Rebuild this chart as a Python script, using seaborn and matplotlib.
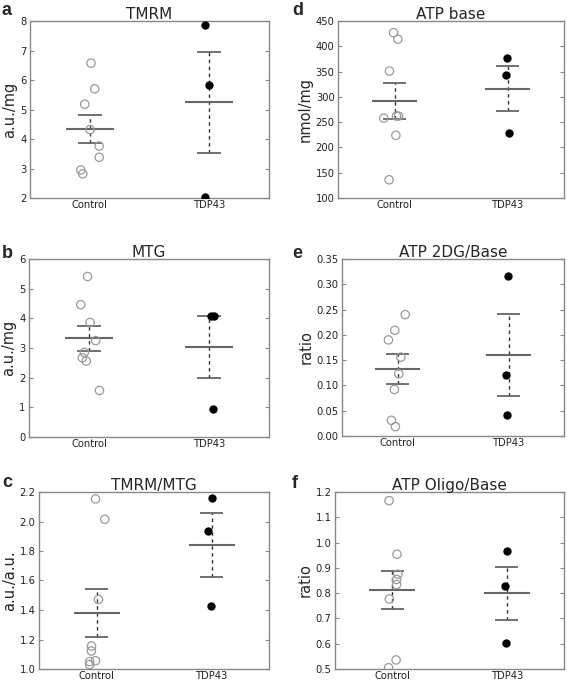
import numpy as np
import pandas as pd
import matplotlib
matplotlib.use("Agg")
import matplotlib.pyplot as plt
import seaborn as sns

# ============================
# Data
# ============================

GROUPS = ["Control", "TDP43"]

tmrm_ctrl = [6.57, 5.70, 5.18, 4.32, 3.76, 3.38, 2.95, 2.82]
tmrm_tdp = [7.88, 5.83, 2.02]

mtg_ctrl = [5.41, 4.46, 3.86, 3.25, 2.85, 2.67, 2.56, 1.57]
mtg_tdp = [4.08, 4.09, 0.94]

ratio_ctrl = [2.153, 2.015, 1.471, 1.156, 1.122, 1.056, 1.050, 1.030]
ratio_tdp = [2.159, 1.934, 1.424]

atp_ctrl = [427, 414, 351, 262, 262, 258, 224, 136]
atp_tdp = [376, 344, 229]

dg_ctrl = [0.240, 0.209, 0.190, 0.156, 0.123, 0.092, 0.031, 0.0185]
dg_tdp = [0.317, 0.121, 0.042]

oligo_ctrl = [1.166, 0.954, 0.875, 0.854, 0.834, 0.777, 0.536, 0.505]
oligo_tdp = [0.965, 0.830, 0.602]

# panel: letter, title, ylabel, control, tdp43, yticks, tick format
PANELS = [
    ("a", "TMRM", "a.u./mg", tmrm_ctrl, tmrm_tdp, np.arange(2, 8.01, 1), "{:.0f}"),
    ("d", "ATP base", "nmol/mg", atp_ctrl, atp_tdp, np.arange(100, 451, 50), "{:.0f}"),
    ("b", "MTG", "a.u./mg", mtg_ctrl, mtg_tdp, np.arange(0, 6.01, 1), "{:.0f}"),
    ("e", "ATP 2DG/Base", "ratio", dg_ctrl, dg_tdp, np.arange(0, 0.351, 0.05), "{:.2f}"),
    ("c", "TMRM/MTG", "a.u./a.u.", ratio_ctrl, ratio_tdp, np.arange(1.0, 2.21, 0.2), "{:.1f}"),
    ("f", "ATP Oligo/Base", "ratio", oligo_ctrl, oligo_tdp, np.arange(0.5, 1.21, 0.1), "{:.1f}"),
]

# axes boxes in pixels: left, top, right, bottom, letter x, letter baseline
BOXES = [
    (30, 21, 269, 198, 2, 15), (338, 21, 564, 198, 292, 15),
    (29, 259, 269, 437, 2, 258), (342, 259, 564, 436, 292, 258),
    (39, 492, 269, 669, 2, 487), (335, 492, 564, 669, 292, 488),
]

W, H = 567, 680

# ============================
# Plot
# ============================

sns.set_style("white")
plt.rcParams["font.family"] = ["DejaVu Sans"]

np.random.seed(3)

fig = plt.figure(figsize=(W / 100, H / 100), dpi=100)

for (letter, title, ylab, ctrl, tdp, yticks, fmt), (l, t, r, b, lx, ly) in zip(PANELS, BOXES):
    ax = fig.add_axes([l / W, 1 - b / H, (r - l) / W, (b - t) / H])

    df = pd.DataFrame({
        "group": ["Control"] * len(ctrl) + ["TDP43"] * len(tdp),
        "value": list(ctrl) + list(tdp),
    })

    # mean and SEM bars
    for i, g in enumerate(GROUPS):
        v = df.loc[df["group"] == g, "value"].to_numpy()
        m = v.mean()
        sem = v.std(ddof=1) / np.sqrt(len(v))
        ax.hlines(m, i - 0.2, i + 0.2, color="#666666", lw=1.5, zorder=2)
        ax.hlines([m - sem, m + sem], i - 0.1, i + 0.1, color="#666666", lw=1.3, zorder=2)
        ax.vlines(i, m - sem, m + sem, color="#333333", lw=1.0,
                  linestyles=(0, (2.5, 2.5)), zorder=1)

    sns.stripplot(data=df[df["group"] == "Control"], x="group", y="value",
                  order=GROUPS, jitter=0.1, size=6, ax=ax,
                  facecolor="none", edgecolor="#9a9a9a", linewidth=0.9, zorder=3)
    sns.stripplot(data=df[df["group"] == "TDP43"], x="group", y="value",
                  order=GROUPS, jitter=0.04, size=6, ax=ax,
                  color="black", linewidth=0, zorder=3)

    ax.set_xlim(-0.5, 1.5)
    ax.set_ylim(yticks[0], yticks[-1])
    ax.set_yticks(yticks)
    ax.set_yticklabels([fmt.format(y) for y in yticks])
    ax.set_xlabel("")
    ax.set_ylabel(ylab, fontsize=10.5, labelpad=2)
    ax.set_title(title, fontsize=11, pad=1.5)

    ax.tick_params(axis="y", direction="in", length=3, width=0.8, color="#888888",
                   labelsize=7.2, labelcolor="#222222", left=True, right=True, pad=2.5)
    ax.tick_params(axis="x", length=0, labelsize=7.2, labelcolor="#222222", pad=1.5)
    for sp in ax.spines.values():
        sp.set_visible(True)
        sp.set_color("#888888")
        sp.set_linewidth(1.0)

    fig.text(lx / W, 1 - ly / H, letter,
             fontsize=13, fontweight="bold", family="Liberation Sans",
             va="baseline", ha="left")

fig.savefig("out.png", dpi=100)
